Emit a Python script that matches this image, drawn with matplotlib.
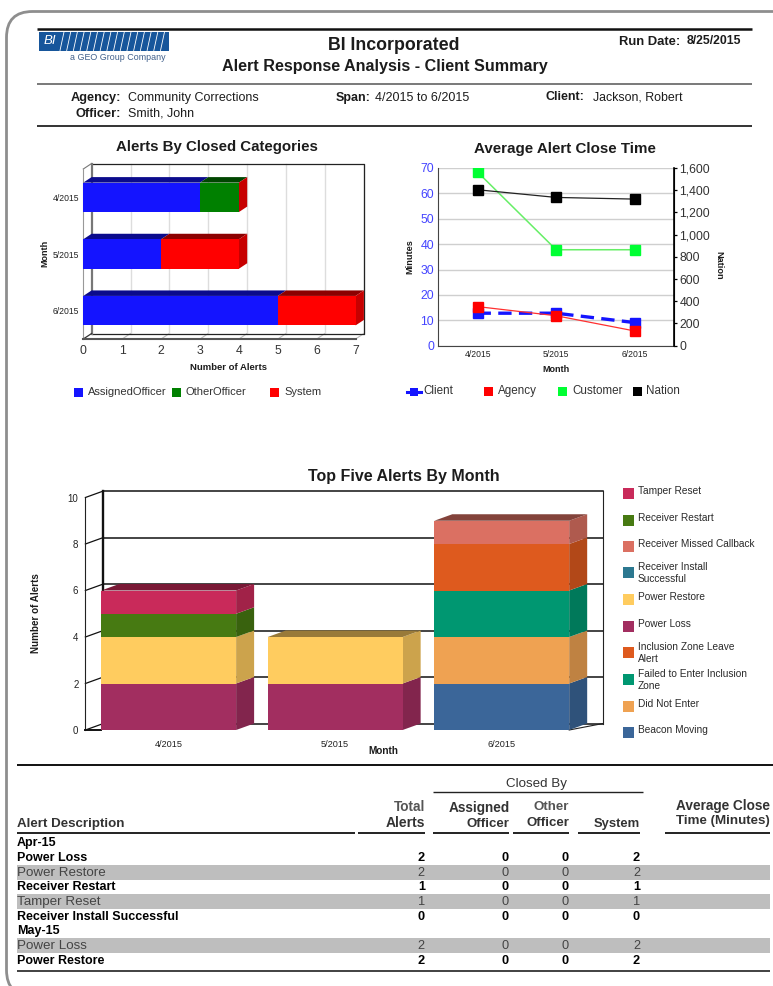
import matplotlib
matplotlib.use("Agg")
import matplotlib.pyplot as plt
from matplotlib.colors import to_rgb
from matplotlib.patches import FancyBboxPatch, Polygon, Rectangle

W, H = 773, 986
SANS = ["Liberation Sans", "DejaVu Sans"]
plt.rcParams["font.family"] = SANS

# chart 1 - alerts by closed categories
months = ["4/2015", "5/2015", "6/2015"]
assigned_officer = [3, 2, 5]
other_officer = [1, 0, 0]
system = [0, 2, 2]

# chart 2 - average close time
client = [12.8, 12.8, 9.1]
agency = [15.4, 11.8, 5.8]
customer = [68.4, 37.8, 37.8]
nation = [1404, 1335, 1320]

# chart 3 - top five alerts, bottom of the stack first
top_five = [
    ("Power Loss", [2, 2, 0], "#A22E60"),
    ("Beacon Moving", [0, 0, 2], "#3B6699"),
    ("Power Restore", [2, 2, 0], "#FFCC5F"),
    ("Did Not Enter", [0, 0, 2], "#EFA252"),
    ("Failed to Enter Inclusion\nZone", [0, 0, 2], "#009771"),
    ("Inclusion Zone Leave\nAlert", [0, 0, 2], "#DE5A1E"),
    ("Receiver Restart", [1, 0, 0], "#477A12"),
    ("Receiver Missed Callback", [0, 0, 1], "#DB7062"),
    ("Tamper Reset", [1, 0, 0], "#C92A5A"),
]
legend_order = [
    ("Tamper Reset", "#C92A5A"),
    ("Receiver Restart", "#477A12"),
    ("Receiver Missed Callback", "#DB7062"),
    ("Receiver Install\nSuccessful", "#2C7890"),
    ("Power Restore", "#FFCC5F"),
    ("Power Loss", "#A22E60"),
    ("Inclusion Zone Leave\nAlert", "#DE5A1E"),
    ("Failed to Enter Inclusion\nZone", "#009771"),
    ("Did Not Enter", "#EFA252"),
    ("Beacon Moving", "#3B6699"),
]
legend_y = [493, 520, 546, 572, 599, 626, 652, 679, 706, 732]

# table
table_rows = [
    ("Apr-15", None, None, None, None),
    ("Power Loss", 2, 0, 0, 2),
    ("Power Restore", 2, 0, 0, 2),
    ("Receiver Restart", 1, 0, 0, 1),
    ("Tamper Reset", 1, 0, 0, 1),
    ("Receiver Install Successful", 0, 0, 0, 0),
    ("May-15", None, None, None, None),
    ("Power Loss", 2, 0, 0, 2),
    ("Power Restore", 2, 0, 0, 2),
]
row_y = [843, 858, 873, 887, 902, 917, 931, 946, 961]
shaded_rows = [2, 4, 7]


def px_axes(fig, x0, y0, x1, y1):
    # axes from pixel corners, y counted from the top
    return fig.add_axes([x0 / W, 1 - y1 / H, (x1 - x0) / W, (y1 - y0) / H])


def shade(color, k):
    return tuple(c * k for c in to_rgb(color))


def hbar3d(ax, left, width, y, h, color, dx, dy, side=False):
    ax.barh(y, width, h, left=left, color=color, zorder=3)
    top = y - h / 2
    bottom = y + h / 2
    right = left + width
    ax.add_patch(Polygon([(left, top), (right, top), (right + dx, top - dy), (left + dx, top - dy)],
                         color=shade(color, 0.55), lw=0, zorder=2.5, clip_on=False))
    if side:
        ax.add_patch(Polygon([(right, top), (right + dx, top - dy), (right + dx, bottom - dy), (right, bottom)],
                             color=shade(color, 0.78), lw=0, zorder=2.7, clip_on=False))


def vbar3d(ax, x, bottom, height, w, color, dx, dy, top_face=False):
    ax.bar(x, height, w, bottom=bottom, color=color, zorder=3)
    right = x + w / 2
    left = x - w / 2
    up = bottom + height
    ax.add_patch(Polygon([(right, bottom), (right + dx, bottom + dy), (right + dx, up + dy), (right, up)],
                         color=shade(color, 0.8), lw=0, zorder=2.7, clip_on=False))
    if top_face:
        ax.add_patch(Polygon([(left, up), (right, up), (right + dx, up + dy), (left + dx, up + dy)],
                             color=shade(color, 0.6), lw=0, zorder=2.7, clip_on=False))


fig = plt.figure(figsize=(W / 100, H / 100), dpi=100)

# page layer in pixel coordinates
page = fig.add_axes([0, 0, 1, 1], zorder=-1)
page.set_xlim(0, W)
page.set_ylim(H, 0)
page.axis("off")
page.add_patch(FancyBboxPatch((6.5, 11.5), 1000, 984.5, boxstyle="round,pad=0,rounding_size=26",
                              fc="white", ec="#8E8E8E", lw=2))


def label(x, y, s, size=8, weight="normal", ha="left", color="#1c1c1c", **kw):
    page.text(x, y, s, fontsize=size, fontweight=weight, ha=ha, va="center", color=color, **kw)


def rule(x0, x1, y, lw=1.0, color="#222222"):
    page.plot([x0, x1], [y, y], color=color, lw=lw, solid_capstyle="butt")


# header
rule(37, 752, 29, 1.8, "#111111")
rule(37, 752, 84, 1.1, "#555555")
rule(37, 752, 126, 1.4, "#333333")
page.add_patch(Rectangle((39, 32), 130, 18.5, color="#17569B", lw=0))
for i in range(16):
    xs = 60 + i * 6.7
    page.plot([xs, xs + 4], [50.5, 32], color="white", lw=0.6)
label(44, 41, "BI", 9.5, color="white", style="italic")
label(118, 57.5, "a GEO Group Company", 6.4, ha="center", color="#3f5f8a")
label(394, 45, "BI Incorporated", 12.8, "bold", ha="center")
label(385, 67, "Alert Response Analysis - Client Summary", 11.6, "bold", ha="center")
label(619, 42, "Run Date:", 9.4, "bold")
label(687, 41, "8/25/2015", 8.8, "bold")
label(121, 98, "Agency:", 9.2, "bold", ha="right")
label(128, 98, "Community Corrections", 9)
label(121, 114, "Officer:", 9.2, "bold", ha="right")
label(128, 114, "Smith, John", 9)
label(336, 98, "Span:", 9, "bold")
label(375, 98, "4/2015 to 6/2015", 9)
label(546, 97, "Client:", 9, "bold")
label(593, 97, "Jackson, Robert", 8.9)

# chart 1
ax1 = px_axes(fig, 83.3, 169, 355.6, 339)
ax1.set_xlim(0, 7)
ax1.set_ylim(2.5, -0.5)
dx1 = 8.3 / (272.3 / 7)
dy1 = 5.5 / (170 / 3)
for v in range(1, 8):
    ax1.plot([v, v + dx1], [2.5, 2.5 - dy1], color="#BBBBBB", lw=0.8, clip_on=False, zorder=1)
    ax1.plot([v + dx1, v + dx1], [2.5 - dy1, -0.5 - dy1], color="#DDDDDD", lw=1.0, clip_on=False, zorder=1)
ax1.plot([dx1, 7 + dx1, 7 + dx1, dx1], [-0.5 - dy1, -0.5 - dy1, 2.5 - dy1, 2.5 - dy1],
         color="#222222", lw=0.9, clip_on=False, zorder=1.5)
ax1.plot([dx1, dx1], [-0.5 - dy1, 2.5 - dy1], color="#777777", lw=1.6, clip_on=False, zorder=1.5)
ax1.plot([0, dx1], [-0.5, -0.5 - dy1], color="#777777", lw=0.8, clip_on=False)
ax1.plot([0, 0], [-0.5, 2.5], color="#999999", lw=0.8, clip_on=False)
ax1.plot([0, dx1], [2.5, 2.5 - dy1], color="#333333", lw=0.9, clip_on=False)
ax1.plot([0, 7], [2.5, 2.5], color="#555555", lw=1.5, clip_on=False)
for i in range(len(months)):
    left = 0
    stack = [(assigned_officer[i], "#1414FF"), (other_officer[i], "#008000"), (system[i], "#FF0000")]
    for n, (v, col) in enumerate(stack):
        # the last series always draws the end cap, even at zero width
        if v > 0 or n == 2:
            hbar3d(ax1, left, v, i, 0.52, col, dx1, dy1, side=(n == 2))
        left += v
ax1.set_xticks(range(8))
ax1.set_yticks(range(3))
ax1.set_yticklabels(months, fontsize=6.2, color="#222222")
ax1.tick_params(axis="x", length=0, labelsize=8.8, labelcolor="#333333", pad=4.5)
ax1.tick_params(axis="y", length=0, pad=3)
ax1.patch.set_alpha(0)
for s in ax1.spines.values():
    s.set_visible(False)
label(217, 147, "Alerts By Closed Categories", 10.8, "bold", ha="center")
label(45, 253, "Month", 6.5, "bold", ha="center", rotation=90)
label(229, 368, "Number of Alerts", 6.8, "bold", ha="center")
for x, name, col in [(74, "AssignedOfficer", "#1414FF"), (172, "OtherOfficer", "#008000"), (270, "System", "#FF0000")]:
    page.add_patch(Rectangle((x, 388), 9, 9, color=col, lw=0))
    label(x + 14, 392, name, 8, color="#333333")

# chart 2
ax2 = px_axes(fig, 438.3, 168, 674, 345.7)
ax2.set_xlim(-0.5, 2.5)
ax2.set_ylim(0, 70)
ax2.set_yticks(range(0, 71, 10))
ax2.yaxis.grid(True, color="#CFCFCF", lw=1.0)
ax2.set_axisbelow(True)
ax2.set_xticks(range(3))
ax2.set_xticklabels(months, fontsize=6.2, color="#222222")
ax2.tick_params(axis="x", length=0, pad=3)
ax2.tick_params(axis="y", length=0, labelsize=8.8, labelcolor="#4444FF", pad=3)
ax2.plot(range(3), customer, color="#66EE66", lw=1.1, marker="s", ms=7, mfc="#00FF33", mec="#00FF33")
ax2.plot(range(3), client, color="#1414FF", lw=2.4, ls=(0, (4, 2.2)), marker="s", ms=6.6, mfc="#1414FF", mec="#1414FF")
ax2.plot(range(3), agency, color="#FF3030", lw=0.9, marker="s", ms=6.6, mfc="#FF0000", mec="#FF0000")
ax2b = ax2.twinx()
ax2b.set_ylim(0, 1600)
ax2b.set_yticks(range(0, 1601, 200))
ax2b.set_yticklabels([f"{v:,}" for v in range(0, 1601, 200)])
ax2b.tick_params(axis="y", length=2, width=0.9, labelsize=8.8, labelcolor="#333333", pad=2)
ax2b.plot(range(3), nation, color="#222222", lw=0.9, marker="s", ms=6.8, mfc="black", mec="black")
for a in (ax2, ax2b):
    a.spines["top"].set_visible(False)
ax2.spines["left"].set_color("#444444")
ax2.spines["bottom"].set_color("#444444")
ax2b.spines["left"].set_visible(False)
ax2b.spines["bottom"].set_visible(False)
ax2b.spines["right"].set_linewidth(1.2)
label(565, 149, "Average Alert Close Time", 10.9, "bold", ha="center")
label(410, 257, "Minutes", 6.6, "bold", ha="center", rotation=90)
label(719, 265, "Nation", 6.6, "bold", ha="center", rotation=270)
label(556, 369, "Month", 6.5, "bold", ha="center")
for x, name, col, off in [(484, "Agency", "#FF0000", 14), (558, "Customer", "#00FF33", 14), (633, "Nation", "black", 13)]:
    page.add_patch(Rectangle((x, 387), 9, 9, color=col, lw=0))
    label(x + off, 391, name, 8.4, color="#333333")
page.plot([630, 645], [391.5, 391.5], color="#222222", lw=0.8, zorder=0)
page.plot([407, 421], [392, 392], color="#1414FF", lw=2.2)
page.add_patch(Rectangle((410, 388), 8, 8, color="#1414FF", lw=0))
label(423, 391, "Client", 8.4, color="#333333")

# chart 3
ax3 = px_axes(fig, 85.4, 497.5, 585, 730)
ax3.set_xlim(-0.5, 2.5)
ax3.set_ylim(0, 10)
dx3 = 18 / (499.6 / 3)
dy3 = 6.5 / 23.25
bar_w3 = 0.81
for v in range(0, 11, 2):
    ax3.plot([-0.5 + dx3, 2.5 + dx3], [v + dy3, v + dy3], color="#111111", lw=1.1, clip_on=False, zorder=1)
    ax3.plot([-0.5, -0.5 + dx3], [v, v + dy3], color="#111111", lw=0.9, clip_on=False, zorder=1)
ax3.plot([-0.5 + dx3, -0.5 + dx3], [dy3, 10 + dy3], color="#111111", lw=1.7, clip_on=False, zorder=1)
ax3.plot([2.5 + dx3, 2.5 + dx3], [dy3, 10 + dy3], color="#222222", lw=0.8, clip_on=False, zorder=1)
ax3.plot([-0.5, -0.5], [0, 10], color="#222222", lw=0.8, clip_on=False, zorder=1)
ax3.plot([-0.5, -bar_w3 / 2], [0, 0], color="#111111", lw=1.4, clip_on=False, zorder=1)
ax3.plot([2 + bar_w3 / 2, 2.5 + dx3], [0, dy3], color="#222222", lw=0.8, clip_on=False, zorder=1)
for i in range(3):
    bottom = 0
    last = max(n for n, s in enumerate(top_five) if s[1][i] > 0)
    for n, (name, vals, col) in enumerate(top_five):
        if vals[i] > 0:
            vbar3d(ax3, i, bottom, vals[i], bar_w3, col, dx3, dy3, top_face=(n == last))
            bottom += vals[i]
ax3.set_xticks(range(3))
ax3.set_xticklabels(months, fontsize=6.6, color="#222222")
ax3.set_yticks(range(0, 11, 2))
ax3.tick_params(axis="x", length=0, pad=7)
ax3.tick_params(axis="y", length=0, labelsize=7, labelcolor="#222222", pad=5)
ax3.patch.set_alpha(0)
for s in ax3.spines.values():
    s.set_visible(False)
label(404, 477, "Top Five Alerts By Month", 11.5, "bold", ha="center")
label(36, 613, "Number of Alerts", 7.1, "bold", ha="center", rotation=90)
label(383, 751, "Month", 7.2, "bold", ha="center")
for (name, col), y in zip(legend_order, legend_y):
    page.add_patch(Rectangle((623, y - 5), 11, 11, color=col, lw=0))
    off = 1 if "\n" in name else -2
    label(638, y + off, name, 7.3, color="#2a2a2a", linespacing=1.3)

# table
rule(17, 773, 765, 1.4, "#111111")
label(537, 784, "Closed By", 9.6, ha="center", color="#333333")
rule(433, 643, 792, 1.0)
label(17, 824, "Alert Description", 9.6, "bold", color="#333333")
label(425, 807, "Total", 9.8, "bold", ha="right", color="#555555")
label(425, 823, "Alerts", 10, "bold", ha="right", color="#333333")
label(479, 808, "Assigned", 9.8, "bold", ha="center", color="#333333")
label(509, 824, "Officer", 9.5, "bold", ha="right", color="#333333")
label(569, 807, "Other", 9.6, "bold", ha="right", color="#555555")
label(569, 823, "Officer", 9.5, "bold", ha="right", color="#333333")
label(640, 824, "System", 9.4, "bold", ha="right", color="#333333")
label(770, 806, "Average Close", 9.8, "bold", ha="right", color="#333333")
label(770, 821, "Time (Minutes)", 9.6, "bold", ha="right", color="#333333")
for x0, x1 in [(17, 355), (358, 425), (433, 509), (513, 569), (578, 640), (665, 770)]:
    rule(x0, x1, 833, 1.3, "#111111")
cols = [425, 509, 569, 640]
for n, (row, y) in enumerate(zip(table_rows, row_y)):
    if n in shaded_rows:
        page.add_patch(Rectangle((17, y - 8.5), 753, 15, color="#BEBEBE", lw=0))
    weight = "normal" if n in shaded_rows else "bold"
    col = "#444444" if n in shaded_rows else "black"
    size = 9.6 if n in shaded_rows else 9
    label(17, y, row[0], size, weight, color=col)
    for x, v in zip(cols, row[1:]):
        if v is not None:
            label(x, y, str(v), 9.2, weight, ha="right", color=col)
rule(17, 770, 971, 1.3, "#333333")

fig.savefig("out.png", dpi=100)
